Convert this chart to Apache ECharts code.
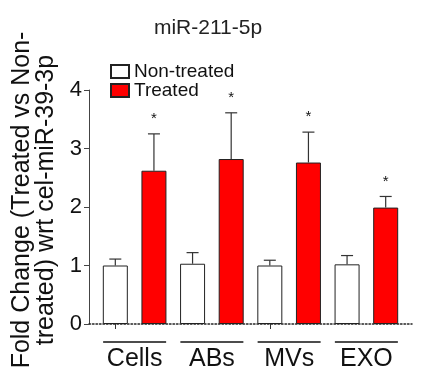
<!DOCTYPE html>
<html>
<head>
<meta charset="utf-8">
<script src="https://cdn.jsdelivr.net/npm/echarts@6/dist/echarts.min.js"></script>
<style>html,body{margin:0;padding:0;background:#fff}#c{width:424px;height:382px}</style>
</head>
<body>
<div id="c"></div>
<script>
const groups = ['Cells', 'ABs', 'MVs', 'EXO'];
const seriesNames = ['Non-treated', 'Treated'];
const nonTreated = [1.00, 1.03, 1.00, 1.02];
const nonTreatedErr = [0.11, 0.19, 0.09, 0.15];
const treated = [2.62, 2.82, 2.76, 1.99];
const treatedErr = [0.63, 0.79, 0.52, 0.19];
const treatedMarks = ['*', '*', '*', '*'];
const yTicks = [0, 1, 2, 3, 4];

const FONT = 'Liberation Sans, Arial, sans-serif';
const slots = groups.flatMap(g => [g + ' ' + seriesNames[0], g + ' ' + seriesNames[1]]);

const ntData = nonTreated.map((v, i) => [slots[2 * i], v]);
const tData = treated.map((v, i) => [slots[2 * i + 1], v]);
const errData = [];
nonTreated.forEach((v, i) => errData.push([slots[2 * i], v, nonTreatedErr[i], '']));
treated.forEach((v, i) => errData.push([slots[2 * i + 1], v, treatedErr[i], treatedMarks[i]]));

const chart = echarts.init(document.getElementById('c'), null, {renderer: 'canvas'});
chart.setOption({
  animation: false,
  backgroundColor: '#fff',
  title: {
    text: 'miR-211-5p', left: 203, top: 13, textAlign: 'center',
    textStyle: {fontFamily: FONT, fontSize: 21, fontWeight: 'normal', color: '#222'}
  },
  legend: {
    data: seriesNames, orient: 'vertical', left: 105, top: 57,
    itemWidth: 18, itemHeight: 13, itemGap: 0, itemTextGap: 13,
    icon: 'rect',
    textStyle: {fontFamily: FONT, fontSize: 19, color: '#111', lineHeight: 18, height: 18}
  },
  grid: [
    {left: 96, right: 19, top: 90, bottom: 58, containLabel: false, outerBoundsMode: 'none'},
    {left: 89, right: 12, top: 90, bottom: 58, containLabel: false, outerBoundsMode: 'none'}
  ],
  xAxis: [
    {
      type: 'category', gridIndex: 0, data: slots, position: 'bottom',
      axisLine: {show: false},
      axisTick: {show: true, alignWithLabel: true, length: 5, lineStyle: {color: '#333', width: 1}},
      axisLabel: {show: false}
    },
    {
      type: 'category', gridIndex: 0, data: groups, position: 'bottom',
      axisLine: {show: false}, axisTick: {show: false},
      axisLabel: {
        show: true, margin: 17, interval: 0,
        formatter: v => '{line|}\n{t|' + v + '}',
        rich: {
          line: {width: 63, height: 1.6, lineHeight: 2, backgroundColor: '#111'},
          t: {fontFamily: FONT, fontSize: 25, color: '#111', lineHeight: 32}
        }
      }
    },
    {
      type: 'value', gridIndex: 1, min: 0, max: 1, show: true,
      axisLine: {show: true, lineStyle: {color: '#222', width: 1.5, type: [1.5, 2]}},
      axisTick: {show: false}, axisLabel: {show: false}, splitLine: {show: false}
    }
  ],
  yAxis: [
    {type: 'value', gridIndex: 0, min: 0, max: 4, interval: 1, show: false},
    {
      type: 'value', gridIndex: 1, min: 0, max: 4, interval: 1,
      axisLine: {show: true, lineStyle: {color: '#444', width: 1}},
      axisTick: {show: true, length: 5, lineStyle: {color: '#444', width: 1}},
      axisLabel: {fontFamily: FONT, fontSize: 22, color: '#111', margin: 7,
        formatter: v => yTicks.includes(v) ? String(v) : ''},
      splitLine: {show: false},
      name: 'Fold Change (Treated vs Non-\ntreated) wrt cel-miR-39-3p',
      nameLocation: 'middle', nameRotate: 90, nameGap: 31,
      nameTextStyle: {fontFamily: FONT, fontSize: 25, color: '#111', lineHeight: 24, padding: [0, 0, 0, 14]}
    }
  ],
  series: [
    {
      name: seriesNames[0], type: 'bar', xAxisIndex: 0, yAxisIndex: 0,
      data: ntData, barWidth: 25, barGap: '-100%',
      itemStyle: {color: '#ffffff', borderColor: '#222', borderWidth: 1}
    },
    {
      name: seriesNames[1], type: 'bar', xAxisIndex: 0, yAxisIndex: 0,
      data: tData, barWidth: 25, barGap: '-100%',
      itemStyle: {color: '#ff0000', borderColor: '#222', borderWidth: 1}
    },
    {
      type: 'custom', xAxisIndex: 0, yAxisIndex: 0, z: 5,
      data: errData,
      encode: {x: 0, y: 1},
      renderItem: function (params, api) {
        const x = api.value(0), v = api.value(1), e = api.value(2);
        const mark = errData[params.dataIndex][3];
        const b = api.coord([x, v]);
        const t = api.coord([x, v + e]);
        const st = {stroke: '#333', lineWidth: 1.2};
        const children = [
          {type: 'line', shape: {x1: b[0], y1: b[1], x2: t[0], y2: t[1]}, style: st},
          {type: 'line', shape: {x1: t[0] - 6, y1: t[1], x2: t[0] + 6, y2: t[1]}, style: st}
        ];
        if (mark) {
          children.push({type: 'text', x: t[0], y: t[1] - 15,
            style: {text: mark, fontFamily: FONT, fontSize: 15, fill: '#111', align: 'center', verticalAlign: 'middle'}});
        }
        return {type: 'group', children: children};
      }
    }
  ]
});
</script>
</body>
</html>
